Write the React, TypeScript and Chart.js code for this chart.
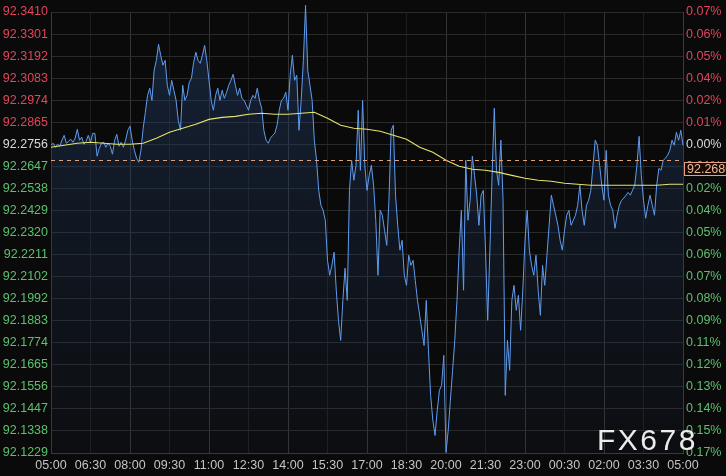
import React, { useEffect, useRef } from "react";
import { Chart, registerables } from "chart.js";

Chart.register(...registerables);

const timeLabels = ["05:00","06:30","08:00","09:30","11:00","12:30","14:00","15:30","17:00","18:30","20:00","21:30","23:00","00:30","02:00","03:30","05:00"];
const leftLabels = ["92.3410","92.3301","92.3192","92.3083","92.2974","92.2865","92.2756","92.2647","92.2538","92.2429","92.2320","92.2211","92.2102","92.1992","92.1883","92.1774","92.1665","92.1556","92.1447","92.1338","92.1229"];
const rightLabels = ["0.07%","0.06%","0.05%","0.04%","0.02%","0.01%","0.00%","0.01%","0.02%","0.04%","0.05%","0.06%","0.07%","0.08%","0.09%","0.11%","0.12%","0.13%","0.14%","0.15%","0.17%"];
const rowTones = ["up","up","up","up","up","up","flat","down","down","down","down","down","down","down","down","down","down","down","down","down","down"];

const axisMax = 92.3410;
const axisMin = 92.1229;
const refPrice = 92.2680;
const refLabel = "92.2680";
const watermark = "FX678";

// 5-minute prices, 05:00 -> 05:00
const priceValues = [
  92.2751,92.2761,92.2741,92.2756,92.2746,92.2776,92.2800,92.2761,92.2771,92.2781,
  92.2766,92.2786,92.2830,92.2776,92.2791,92.2756,92.2771,92.2800,92.2766,92.2810,
  92.2810,92.2697,92.2736,92.2761,92.2766,92.2741,92.2761,92.2746,92.2707,92.2776,
  92.2805,92.2746,92.2766,92.2741,92.2776,92.2825,92.2845,92.2776,92.2726,92.2687,
  92.2667,92.2726,92.2835,92.2914,92.2998,92.3033,92.2973,92.3122,92.3171,92.3250,
  92.3196,92.3147,92.3171,92.3048,92.2998,92.3072,92.3023,92.2973,92.2874,92.2825,
  92.3048,92.2973,92.2998,92.3062,92.3082,92.3161,92.3211,92.3171,92.3156,92.3196,
  92.3245,92.3171,92.3072,92.2973,92.2924,92.2998,92.3033,92.2973,92.3023,92.2983,
  92.3013,92.3048,92.3072,92.3102,92.3048,92.2998,92.3033,92.2983,92.2973,92.2949,
  92.2924,92.2973,92.2998,92.2983,92.3033,92.2973,92.2934,92.2825,92.2776,92.2761,
  92.2786,92.2800,92.2810,92.2850,92.2924,92.2973,92.2983,92.3013,92.2924,92.3097,
  92.3196,92.3072,92.3097,92.2825,92.2973,92.3171,92.3443,92.3122,92.3048,92.2973,
  92.2776,92.2677,92.2528,92.2454,92.2429,92.2380,92.2182,92.2108,92.2157,92.2222,
  92.2034,92.1885,92.1786,92.1984,92.2143,92.1984,92.2528,92.2677,92.2578,92.2652,
  92.2924,92.2627,92.2973,92.2652,92.2528,92.2602,92.2652,92.2553,92.2380,92.2108,
  92.2429,92.2405,92.2330,92.2256,92.2479,92.2825,92.2850,92.2504,92.2355,92.2232,
  92.2281,92.2108,92.2058,92.2207,92.2157,92.2182,92.2083,92.1984,92.1910,92.1836,
  92.1761,92.1984,92.1737,92.1514,92.1391,92.1316,92.1440,92.1539,92.1564,92.1712,
  92.1232,92.1341,92.1490,92.1638,92.1786,92.1984,92.2232,92.2429,92.2034,92.2677,
  92.2380,92.2479,92.2697,92.2602,92.2504,92.2355,92.2504,92.2528,92.2232,92.1885,
  92.2232,92.2602,92.2934,92.2627,92.2553,92.2776,92.2479,92.1514,92.1786,92.1638,
  92.1984,92.2058,92.1935,92.2009,92.1836,92.2034,92.2281,92.2429,92.2232,92.2157,
  92.2108,92.2207,92.2034,92.1910,92.2157,92.2058,92.2207,92.2355,92.2504,92.2454,
  92.2405,92.2355,92.2281,92.2232,92.2330,92.2405,92.2429,92.2355,92.2380,92.2405,
  92.2454,92.2553,92.2429,92.2355,92.2454,92.2479,92.2528,92.2652,92.2776,92.2751,
  92.2652,92.2553,92.2479,92.2726,92.2504,92.2454,92.2429,92.2340,92.2405,92.2454,
  92.2479,92.2489,92.2504,92.2518,92.2504,92.2528,92.2553,92.2652,92.2795,92.2602,
  92.2479,92.2390,92.2454,92.2504,92.2454,92.2405,92.2553,92.2637,92.2627,92.2677,
  92.2687,92.2702,92.2726,92.2776,92.2751,92.2815,92.2776,92.2825,92.2751
];
const priceStepMin = 5;

// 30-minute moving average
const avgValues = [
  92.2741,92.2751,92.2761,92.2766,92.2761,92.2756,92.2756,92.2761,92.2786,92.2815,
  92.2835,92.2855,92.2879,92.2889,92.2894,92.2904,92.2909,92.2904,92.2904,92.2909,
  92.2914,92.2884,92.2850,92.2835,92.2830,92.2820,92.2800,92.2781,92.2741,92.2716,
  92.2677,92.2647,92.2632,92.2627,92.2617,92.2602,92.2588,92.2578,92.2573,92.2563,
  92.2558,92.2553,92.2553,92.2553,92.2553,92.2553,92.2553,92.2558,92.2558
];
const avgStepMin = 30;

const toneColor: Record<string, string> = { up: "#e0465c", flat: "#d8d8d8", down: "#5cc06e" };
const FONT = "'Liberation Sans', Arial, sans-serif";

export default function App() {
  const ref = useRef<HTMLCanvasElement | null>(null);
  useEffect(() => {
    if (!ref.current) return;
    const step = (axisMax - axisMin) / 20;
    const setTicks = (scale: any) => {
      scale.ticks = leftLabels.map((_, i) => ({ value: axisMin + i * step }));
    };
    const rowOf = (i: number) => 20 - i;

    const overlay = {
      id: "overlay",
      afterDatasetsDraw(chart: any) {
        const { ctx, chartArea } = chart;
        const y = chart.scales.y.getPixelForValue(refPrice);
        ctx.save();
        ctx.strokeStyle = "#e8a070";
        ctx.lineWidth = 1;
        ctx.setLineDash([4, 4]);
        ctx.beginPath();
        ctx.moveTo(chartArea.left, Math.round(y) + 0.5);
        ctx.lineTo(chartArea.right, Math.round(y) + 0.5);
        ctx.stroke();
        ctx.restore();
      },
      afterDraw(chart: any) {
        const { ctx, chartArea } = chart;
        const y = chart.scales.y.getPixelForValue(refPrice);
        ctx.save();
        const bx = chartArea.right + 1.5;
        const by = Math.round(y) + 2.5;
        ctx.fillStyle = "#140c08";
        ctx.fillRect(bx, by, 60, 13);
        ctx.strokeStyle = "#e8a080";
        ctx.lineWidth = 1;
        ctx.strokeRect(bx, by, 60, 13);
        ctx.fillStyle = "#f2b894";
        ctx.font = `12.5px ${FONT}`;
        ctx.textBaseline = "middle";
        ctx.textAlign = "left";
        ctx.fillText(refLabel, bx + 2.5, by + 7);
        // watermark
        ctx.fillStyle = "#ececec";
        ctx.font = `30px ${FONT}`;
        (ctx as any).letterSpacing = "2.5px";
        ctx.textBaseline = "alphabetic";
        ctx.fillText(watermark, 597, 450);
        ctx.restore();
      },
    };

    const chart = new Chart(ref.current, {
      type: "line",
      data: {
        datasets: [
          {
            label: "avg",
            data: avgValues.map((v, i) => ({ x: i * avgStepMin, y: v })),
            borderColor: "#e6e46a",
            borderWidth: 1.1,
            pointRadius: 0,
            fill: false,
            order: 0,
          },
          {
            label: "price",
            data: priceValues.map((v, i) => ({ x: i * priceStepMin, y: v })),
            borderColor: "#5f9cf0",
            borderWidth: 1,
            pointRadius: 0,
            fill: "start",
            clip: 10,
            order: 1,
            backgroundColor: (c: any) => {
              const area = c.chart.chartArea;
              if (!area) return "rgba(0,0,0,0)";
              const g = c.chart.ctx.createLinearGradient(0, area.top, 0, area.bottom);
              g.addColorStop(0, "rgba(35,62,105,0.5)");
              g.addColorStop(1, "rgba(30,45,70,0.12)");
              return g;
            },
          },
        ],
      },
      options: {
        animation: false,
        responsive: true,
        maintainAspectRatio: false,
        layout: { padding: { top: 12, left: 0, right: 0, bottom: 0 } },
        plugins: { legend: { display: false }, tooltip: { enabled: false } },
        scales: {
          x: {
            type: "linear",
            min: 0,
            max: 1440,
            afterBuildTicks: (s: any) => {
              s.ticks = timeLabels.map((_, i) => ({ value: i * 90 }));
            },
            afterFit: (s: any) => { s.height = 23; },
            ticks: {
              autoSkip: false,
              maxRotation: 0,
              padding: 5,
              color: "#c4c4c4",
              font: { size: 12.5, family: FONT },
              callback: (_v: any, i: number) => timeLabels[i],
            },
            grid: {
              drawTicks: false,
              color: (c: any) => (c.index % 2 === 0 ? "#353535" : "#1e1e1e"),
              lineWidth: 1,
            },
            border: { color: "#3a3a3a" },
          },
          y: {
            type: "linear",
            position: "left",
            min: axisMin,
            max: axisMax,
            afterBuildTicks: setTicks,
            afterFit: (s: any) => { s.width = 51; },
            ticks: {
              autoSkip: false,
              padding: 3,
              font: { size: 12.5, family: FONT },
              color: (c: any) => toneColor[rowTones[rowOf(c.index)]],
              callback: (_v: any, i: number) => leftLabels[rowOf(i)],
            },
            grid: { drawTicks: false, color: "#2a2a2a", lineWidth: 1 },
            border: { color: "#3a3a3a" },
          },
          y2: {
            type: "linear",
            position: "right",
            min: axisMin,
            max: axisMax,
            afterBuildTicks: setTicks,
            afterFit: (s: any) => { s.width = 43; },
            ticks: {
              autoSkip: false,
              padding: 3,
              font: { size: 12.5, family: FONT },
              color: (c: any) => toneColor[rowTones[rowOf(c.index)]],
              callback: (_v: any, i: number) => rightLabels[rowOf(i)],
            },
            grid: { display: false, drawTicks: false },
            border: { color: "#3a3a3a" },
          },
        },
      },
      plugins: [overlay],
    });
    return () => chart.destroy();
  }, []);

  return (
    <div style={{ position: "fixed", left: 0, top: 0, width: 726, height: 476, background: "#0a0a0a" }}>
      <canvas ref={ref} />
    </div>
  );
}
